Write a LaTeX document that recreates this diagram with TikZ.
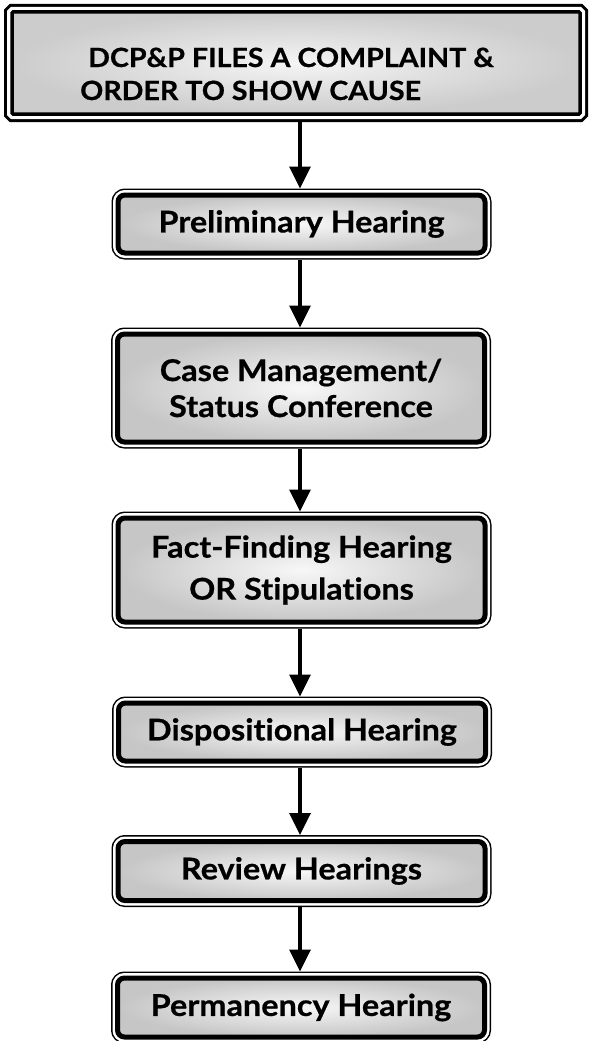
\documentclass[tikz,border=0pt]{standalone}
\usepackage{fontspec}
\setmainfont{Lato}[Ligatures=NoCommon, BoldFeatures={FakeStretch=1.08, FakeBold=0.6}]
\usetikzlibrary{arrows.meta}
\begin{document}
\begin{tikzpicture}[x=1pt,y=-1pt,
  hbox/.style={rounded corners=7pt, minimum width=367pt, inner sep=0pt, outer sep=6.5pt,
    line width=5pt, draw=black, shade, inner color=gray!6, outer color=gray!45,
    preaction={draw=black, line width=13pt}, preaction={draw=white, line width=10pt},
    font=\bfseries\fontsize{30}{36}\selectfont, align=center},
  topbox/.style={rounded corners=1pt, minimum width=568pt, minimum height=102pt, inner sep=0pt,
    outer sep=8pt, line width=3.5pt, draw=black, shade, inner color=gray!8, outer color=gray!40,
    preaction={draw=black, line width=16pt}, preaction={draw=white, line width=10pt}},
  toptxt/.style={font=\bfseries\fontsize{26.5}{33}\selectfont, align=left, inner sep=0pt},
  arr/.style={line width=3.5pt, -{Triangle[width=21pt,length=22pt]}}]
\useasboundingbox (0,0) rectangle (590,1041);
\fill[white] (0,0) rectangle (590,1041);
\node[topbox] (top) at (296,63) {};
\node[toptxt, anchor=base west] (toptext) at (80,100) {\hspace*{8pt}DCP\&P FILES A COMPLAINT \&\\ORDER TO SHOW CAUSE};
\node[hbox, minimum height=58pt] (prelim) at (301.5,224) {Preliminary Hearing};
\node[hbox, minimum height=108pt] (case) at (301,388) {Case Management/\\Status Conference};
\node[hbox, minimum height=104pt, font=\bfseries\fontsize{30}{42}\selectfont] (fact) at (301.5,570) {Fact-Finding Hearing\\OR Stipulations};
\node[hbox, minimum height=58pt] (disp) at (302,732) {Dispositional Hearing};
\node[hbox, minimum height=59pt] (review) at (301.5,871) {Review Hearings};
\node[hbox, minimum height=59pt] (perm) at (301,1007.5) {Permanency Hearing};
\draw[arr] (top.south -| 300,0) -- (prelim.north -| 300,0);
\draw[arr] (prelim.south -| 300,0) -- (case.north -| 300,0);
\draw[arr] (case.south -| 300,0) -- (fact.north -| 300,0);
\draw[arr] (fact.south -| 300,0) -- (disp.north -| 300,0);
\draw[arr] (disp.south -| 300,0) -- (review.north -| 300,0);
\draw[arr] (review.south -| 300,0) -- (perm.north -| 300,0);
\end{tikzpicture}
\end{document}
